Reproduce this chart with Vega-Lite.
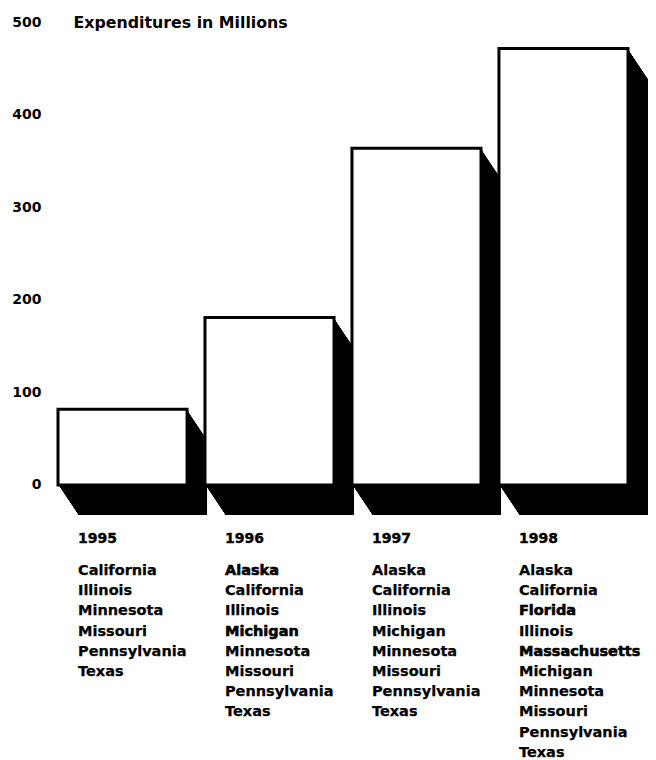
{
  "$schema": "https://vega.github.io/schema/vega-lite/v6.json",
  "width": 598,
  "height": 760,
  "autosize": {"type": "none"},
  "padding": {"left": 58, "top": 0, "right": 0, "bottom": 0},
  "background": "white",
  "config": {"view": {"stroke": null}, "font": "DejaVu Sans"},
  "datasets": {
    "bars": [
      {"year": "1995", "value": 82},
      {"year": "1996", "value": 181},
      {"year": "1997", "value": 364},
      {"year": "1998", "value": 472}
    ],
    "states": [
      {"year": "1995", "line": 1, "state": "California", "new": false},
      {"year": "1995", "line": 2, "state": "Illinois", "new": false},
      {"year": "1995", "line": 3, "state": "Minnesota", "new": false},
      {"year": "1995", "line": 4, "state": "Missouri", "new": false},
      {"year": "1995", "line": 5, "state": "Pennsylvania", "new": false},
      {"year": "1995", "line": 6, "state": "Texas", "new": false},
      {"year": "1996", "line": 1, "state": "Alaska", "new": true},
      {"year": "1996", "line": 2, "state": "California", "new": false},
      {"year": "1996", "line": 3, "state": "Illinois", "new": false},
      {"year": "1996", "line": 4, "state": "Michigan", "new": true},
      {"year": "1996", "line": 5, "state": "Minnesota", "new": false},
      {"year": "1996", "line": 6, "state": "Missouri", "new": false},
      {"year": "1996", "line": 7, "state": "Pennsylvania", "new": false},
      {"year": "1996", "line": 8, "state": "Texas", "new": false},
      {"year": "1997", "line": 1, "state": "Alaska", "new": false},
      {"year": "1997", "line": 2, "state": "California", "new": false},
      {"year": "1997", "line": 3, "state": "Illinois", "new": false},
      {"year": "1997", "line": 4, "state": "Michigan", "new": false},
      {"year": "1997", "line": 5, "state": "Minnesota", "new": false},
      {"year": "1997", "line": 6, "state": "Missouri", "new": false},
      {"year": "1997", "line": 7, "state": "Pennsylvania", "new": false},
      {"year": "1997", "line": 8, "state": "Texas", "new": false},
      {"year": "1998", "line": 1, "state": "Alaska", "new": false},
      {"year": "1998", "line": 2, "state": "California", "new": false},
      {"year": "1998", "line": 3, "state": "Florida", "new": true},
      {"year": "1998", "line": 4, "state": "Illinois", "new": false},
      {"year": "1998", "line": 5, "state": "Massachusetts", "new": true},
      {"year": "1998", "line": 6, "state": "Michigan", "new": false},
      {"year": "1998", "line": 7, "state": "Minnesota", "new": false},
      {"year": "1998", "line": 8, "state": "Missouri", "new": false},
      {"year": "1998", "line": 9, "state": "Pennsylvania", "new": false},
      {"year": "1998", "line": 10, "state": "Texas", "new": false}
    ]
  },
  "layer": [
    {
      "data": {"name": "bars"},
      "encoding": {
        "x": {
          "field": "year",
          "type": "nominal",
          "scale": {"range": [0, 570], "paddingInner": 0.122, "paddingOuter": 0},
          "axis": null
        },
        "y": {
          "field": "value",
          "type": "quantitative",
          "scale": {"domain": [-297.3, 524.3], "nice": false, "zero": false},
          "axis": {
            "values": [0, 100, 200, 300, 400, 500],
            "domain": false,
            "ticks": false,
            "grid": false,
            "labelPadding": 17,
            "labelFont": "DejaVu Sans",
            "labelFontSize": 14,
            "labelFontWeight": "bold",
            "labelColor": "black",
            "labelBaseline": "middle",
            "title": "Expenditures in Millions",
            "titleAngle": 0,
            "titleX": 15,
            "titleY": 22,
            "titleAlign": "left",
            "titleBaseline": "middle",
            "titleFont": "DejaVu Sans",
            "titleFontSize": 15.8,
            "titleFontWeight": "bold",
            "titleColor": "black"
          }
        },
        "y2": {"datum": 0}
      },
      "layer": [
        {"mark": {"type": "bar", "fill": "black", "xOffset": 1, "x2Offset": 1, "yOffset": 1.5, "y2Offset": 1.5}},
        {"mark": {"type": "bar", "fill": "black", "xOffset": 2, "x2Offset": 2, "yOffset": 3, "y2Offset": 3}},
        {"mark": {"type": "bar", "fill": "black", "xOffset": 3, "x2Offset": 3, "yOffset": 4.5, "y2Offset": 4.5}},
        {"mark": {"type": "bar", "fill": "black", "xOffset": 4, "x2Offset": 4, "yOffset": 6, "y2Offset": 6}},
        {"mark": {"type": "bar", "fill": "black", "xOffset": 5, "x2Offset": 5, "yOffset": 7.5, "y2Offset": 7.5}},
        {"mark": {"type": "bar", "fill": "black", "xOffset": 6, "x2Offset": 6, "yOffset": 9, "y2Offset": 9}},
        {"mark": {"type": "bar", "fill": "black", "xOffset": 7, "x2Offset": 7, "yOffset": 10.5, "y2Offset": 10.5}},
        {"mark": {"type": "bar", "fill": "black", "xOffset": 8, "x2Offset": 8, "yOffset": 12, "y2Offset": 12}},
        {"mark": {"type": "bar", "fill": "black", "xOffset": 9, "x2Offset": 9, "yOffset": 13.5, "y2Offset": 13.5}},
        {"mark": {"type": "bar", "fill": "black", "xOffset": 10, "x2Offset": 10, "yOffset": 15, "y2Offset": 15}},
        {"mark": {"type": "bar", "fill": "black", "xOffset": 11, "x2Offset": 11, "yOffset": 16.5, "y2Offset": 16.5}},
        {"mark": {"type": "bar", "fill": "black", "xOffset": 12, "x2Offset": 12, "yOffset": 18, "y2Offset": 18}},
        {"mark": {"type": "bar", "fill": "black", "xOffset": 13, "x2Offset": 13, "yOffset": 19.5, "y2Offset": 19.5}},
        {"mark": {"type": "bar", "fill": "black", "xOffset": 14, "x2Offset": 14, "yOffset": 21, "y2Offset": 21}},
        {"mark": {"type": "bar", "fill": "black", "xOffset": 15, "x2Offset": 15, "yOffset": 22.5, "y2Offset": 22.5}},
        {"mark": {"type": "bar", "fill": "black", "xOffset": 16, "x2Offset": 16, "yOffset": 24, "y2Offset": 24}},
        {"mark": {"type": "bar", "fill": "black", "xOffset": 17, "x2Offset": 17, "yOffset": 25.5, "y2Offset": 25.5}},
        {"mark": {"type": "bar", "fill": "black", "xOffset": 18, "x2Offset": 18, "yOffset": 27, "y2Offset": 27}},
        {"mark": {"type": "bar", "fill": "black", "xOffset": 19, "x2Offset": 19, "yOffset": 28.5, "y2Offset": 28.5}},
        {"mark": {"type": "bar", "fill": "black", "xOffset": 20, "x2Offset": 20, "yOffset": 30, "y2Offset": 30}},
        {"mark": {"type": "bar", "fill": "white", "stroke": "black", "strokeWidth": 3}},
        {
          "mark": {"type": "text", "align": "left", "baseline": "middle", "dx": 20, "dy": 54, "font": "DejaVu Sans", "fontSize": 14, "fontWeight": "bold", "fill": "black", "stroke": "black", "strokeWidth": 0.4},
          "encoding": {
            "x": {"field": "year", "type": "nominal", "bandPosition": 0},
            "y": {"datum": 0},
            "y2": null,
            "text": {"field": "year"}
          }
        }
      ]
    },
    {
      "data": {"name": "states"},
      "encoding": {
        "x": {"field": "year", "type": "nominal", "bandPosition": 0, "axis": null},
        "y": {
          "field": "line",
          "type": "quantitative",
          "scale": {"domain": [-27.267, 10.357], "reverse": true, "nice": false, "zero": false},
          "axis": null
        },
        "text": {"field": "state"}
      },
      "layer": [
        {
          "transform": [{"filter": "!datum.new"}],
          "mark": {"type": "text", "align": "left", "baseline": "middle", "dx": 20, "font": "DejaVu Sans", "fontSize": 14.5, "fontWeight": "bold", "fill": "black", "stroke": "black", "strokeWidth": 0.25}
        },
        {
          "transform": [{"filter": "datum.new"}],
          "mark": {"type": "text", "align": "left", "baseline": "middle", "dx": 20, "font": "DejaVu Sans", "fontSize": 14.5, "fontWeight": "bold", "fill": "black", "stroke": "black", "strokeWidth": 0.6}
        }
      ]
    }
  ],
  "resolve": {"scale": {"y": "independent"}}
}
